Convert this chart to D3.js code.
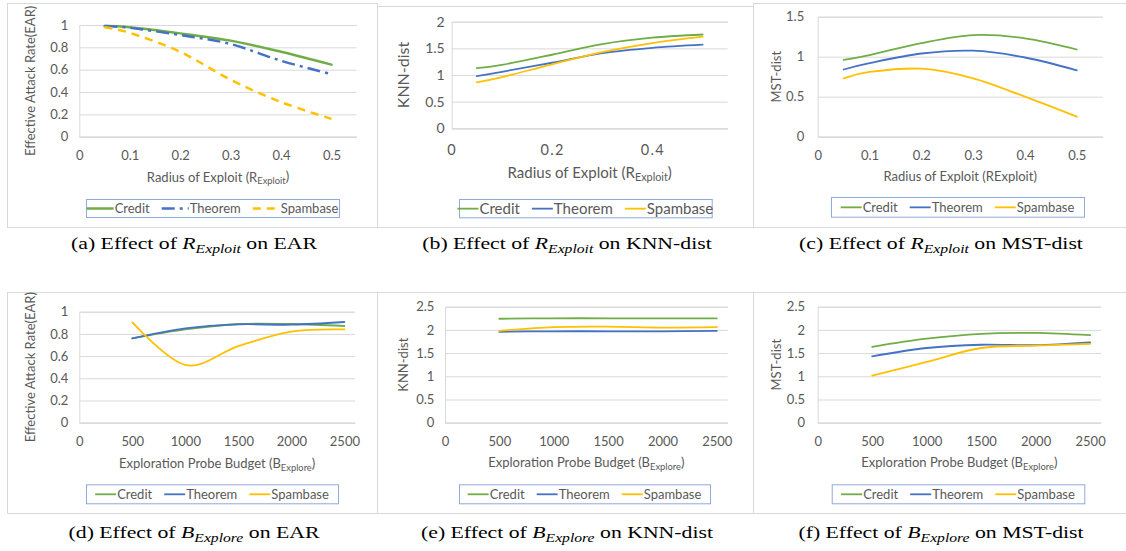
<!DOCTYPE html>
<html><head><meta charset="utf-8">
<script src="https://cdn.jsdelivr.net/npm/d3@7"></script>
<style>body{margin:0;background:#fff} svg{display:block}</style>
</head><body>
<svg id="c" width="1126" height="551"></svg>
<script>
// ---------------- data ----------------
const seriesNames = ["Credit", "Theorem", "Spambase"];
const radiusX = [0.05, 0.1, 0.2, 0.3, 0.4, 0.5];
const budgetX = [500, 1000, 1500, 2000, 2500];

const earRadiusCredit   = [0.99, 0.98, 0.925, 0.86, 0.76, 0.645];
const earRadiusTheorem  = [0.99, 0.975, 0.91, 0.83, 0.68, 0.56];
const earRadiusSpambase = [0.98, 0.93, 0.76, 0.51, 0.31, 0.16];

const knnRadiusCredit   = [1.13, 1.19, 1.38, 1.58, 1.70, 1.76];
const knnRadiusTheorem  = [0.98, 1.06, 1.23, 1.41, 1.51, 1.57];
const knnRadiusSpambase = [0.86, 0.96, 1.20, 1.43, 1.60, 1.72];

const mstRadiusCredit   = [0.96, 1.02, 1.17, 1.27, 1.23, 1.09];
const mstRadiusTheorem  = [0.84, 0.92, 1.04, 1.075, 0.99, 0.83];
const mstRadiusSpambase = [0.73, 0.81, 0.85, 0.73, 0.50, 0.25];

const earBudgetCredit   = [0.76, 0.84, 0.889, 0.889, 0.871];
const earBudgetTheorem  = [0.76, 0.85, 0.886, 0.883, 0.907];
const earBudgetSpambase = [0.904, 0.52, 0.69, 0.82, 0.84];

const knnBudgetCredit   = [2.24, 2.25, 2.25, 2.25, 2.25];
const knnBudgetTheorem  = [1.96, 1.97, 1.97, 1.97, 1.98];
const knnBudgetSpambase = [1.98, 2.06, 2.07, 2.05, 2.06];

const mstBudgetCredit   = [1.636, 1.81, 1.914, 1.936, 1.886];
const mstBudgetTheorem  = [1.43, 1.61, 1.68, 1.67, 1.73];
const mstBudgetSpambase = [1.014, 1.31, 1.61, 1.66, 1.70];

const radiusTicksFull  = [0, 0.1, 0.2, 0.3, 0.4, 0.5];
const radiusTicksWide  = [0, 0.2, 0.4];
const budgetTicks      = [0, 500, 1000, 1500, 2000, 2500];
const earTicks         = [0, 0.2, 0.4, 0.6, 0.8, 1];
const knnRadiusTicks   = [0, 0.5, 1, 1.5, 2];
const mstRadiusTicks   = [0, 0.5, 1, 1.5];
const distBudgetTicks  = [0, 0.5, 1, 1.5, 2, 2.5];

const yTitles = ["Effective Attack Rate(EAR)", "KNN-dist", "MST-dist"];
const captionLetters = ["(a)", "(b)", "(c)", "(d)", "(e)", "(f)"];
const captionMetrics = ["EAR", "KNN-dist", "MST-dist"];

// ---------------- styles / layout ----------------
const colors = ["#70AD47", "#4472C4", "#FFC000"];
const textColor = "#595959";
const gridColor = "#D9D9D9";
const FONT = "Lato, 'Open Sans', sans-serif";
const SERIF = "'Liberation Serif', 'DejaVu Serif', serif";

const panels = [
  { frame:[7,3,377,227], plot:[79.3,25,356.7,136.7], xDom:[0,0.55], yDom:[0,1],
    x: radiusX, ys:[earRadiusCredit, earRadiusTheorem, earRadiusSpambase],
    xt: radiusTicksFull, yt: earTicks, ytitle:0, xtitle:"R", sub:true,
    tickFs:13, xTickFs:13, xTickLs:0, titleFs:13, yTitleFs:13, legFs:13,
    yGap:11, xTickY:155, xTitleY:177, yTitleX:30, legend:[86,199,339,217], sample:27,
    dashes:[null,"13,5,3,5","8,6"], sw:2.5 },
  { frame:[377,6,753,227], plot:[451.7,21.7,727.7,128.3], xDom:[0,0.55], yDom:[0,2],
    x: radiusX, ys:[knnRadiusCredit, knnRadiusTheorem, knnRadiusSpambase],
    xt: radiusTicksWide, yt: knnRadiusTicks, ytitle:1, xtitle:"R", sub:true,
    tickFs:14, xTickFs:14.5, xTickLs:1.3, titleFs:15, yTitleFs:16, legFs:15,
    yGap:7, xTickY:150, xTitleY:173, yTitleX:403, legend:[459,199,711.7,217.3], sample:21,
    dashes:[null,null,null], sw:1.8 },
  { frame:[753,3,1126,227], plot:[817.7,16.7,1102.7,136.7], xDom:[0,0.55], yDom:[0,1.5],
    x: radiusX, ys:[mstRadiusCredit, mstRadiusTheorem, mstRadiusSpambase],
    xt: radiusTicksFull, yt: mstRadiusTicks, ytitle:2, xtitle:"R", sub:false,
    tickFs:13, xTickFs:13, xTickLs:0, titleFs:13, yTitleFs:13, legFs:13,
    yGap:13.5, xTickY:155.7, xTitleY:176.7, yTitleX:776.7, legend:[831,197,1084,216.7], sample:21,
    dashes:[null,null,null], sw:1.8 },
  { frame:[7,292,377,513], plot:[79.3,311.7,355,422.7], xDom:[0,2600], yDom:[0,1],
    x: budgetX, ys:[earBudgetCredit, earBudgetTheorem, earBudgetSpambase],
    xt: budgetTicks, yt: earTicks, ytitle:0, xtitle:"B", sub:true,
    tickFs:13, xTickFs:13, xTickLs:0, titleFs:13, yTitleFs:13, legFs:13,
    yGap:11, xTickY:441, xTitleY:463.3, yTitleX:30, legend:[86,484.3,338,503.3], sample:21,
    dashes:[null,null,null], sw:1.8 },
  { frame:[377,292,753,513], plot:[445,306.7,727.7,422.7], xDom:[0,2600], yDom:[0,2.5],
    x: budgetX, ys:[knnBudgetCredit, knnBudgetTheorem, knnBudgetSpambase],
    xt: budgetTicks, yt: distBudgetTicks, ytitle:1, xtitle:"B", sub:true,
    tickFs:13, xTickFs:13, xTickLs:0, titleFs:13, yTitleFs:13, legFs:13,
    yGap:10.7, xTickY:441.7, xTitleY:462.7, yTitleX:403.3, legend:[459,484.3,710,503.3], sample:21,
    dashes:[null,null,null], sw:1.8 },
  { frame:[753,292,1126,513], plot:[817.7,306.7,1101,422.7], xDom:[0,2600], yDom:[0,2.5],
    x: budgetX, ys:[mstBudgetCredit, mstBudgetTheorem, mstBudgetSpambase],
    xt: budgetTicks, yt: distBudgetTicks, ytitle:2, xtitle:"B", sub:true,
    tickFs:13, xTickFs:13, xTickLs:0, titleFs:13, yTitleFs:13, legFs:13,
    yGap:12.7, xTickY:441.7, xTitleY:462.7, yTitleX:776, legend:[831.7,484.3,1084.3,503.3], sample:21,
    dashes:[null,null,null], sw:1.8 }
];
// caption anchor (centre x, baseline y) and target width (figure is stretched horizontally)
const captionCenters = [[194,249],[567,249],[941,249],[194,538],[567,538],[941,538]];
const CAP_FS = 17, CAP_STRETCH = 1.28;

const svg = d3.select("#c");
svg.append("rect").attr("width",1126).attr("height",551).attr("fill","#fff");

panels.forEach((p, i) => {
  const g = svg.append("g");
  const [fx0, fy0, fx1, fy1] = p.frame;
  g.append("rect").attr("x", fx0 + 0.5).attr("y", fy0 + 0.5)
    .attr("width", fx1 - fx0).attr("height", fy1 - fy0)
    .attr("fill", "none").attr("stroke", gridColor).attr("stroke-width", 1);

  const [px0, py0, px1, py1] = p.plot;
  const xs = d3.scaleLinear().domain(p.xDom).range([px0, px1]);
  const ys = d3.scaleLinear().domain(p.yDom).range([py1, py0]);

  const yAxis = d3.axisLeft(ys).tickValues(p.yt).tickSize(-(px1 - px0)).tickPadding(p.yGap).tickFormat(d => String(d));
  const ya = g.append("g").attr("transform", `translate(${px0},0)`).call(yAxis);
  ya.select(".domain").attr("stroke", gridColor);
  ya.selectAll(".tick line").attr("stroke", gridColor).attr("stroke-width", 1);
  ya.selectAll(".tick text").attr("fill", textColor).attr("font-family", FONT).attr("font-size", p.tickFs);

  const xAxis = d3.axisBottom(xs).tickValues(p.xt).tickSize(0).tickPadding(0).tickFormat(d => String(d));
  const xa = g.append("g").attr("transform", `translate(0,${py1})`).call(xAxis);
  xa.select(".domain").attr("stroke", gridColor);
  xa.selectAll(".tick text").attr("fill", textColor).attr("font-family", FONT)
    .attr("font-size", p.xTickFs).attr("letter-spacing", p.xTickLs)
    .attr("y", p.xTickY - py1).attr("dy", "0.35em");

  const xt = g.append("text").attr("x", (px0 + px1) / 2).attr("y", p.xTitleY).attr("dy", "0.35em")
    .attr("text-anchor", "middle").attr("fill", textColor).attr("font-family", FONT).attr("font-size", p.titleFs);
  const word = p.xtitle === "R" ? "Radius of Exploit (" : "Exploration Probe Budget (";
  const subw = p.xtitle === "R" ? "Exploit" : "Explore";
  if (p.sub) {
    xt.append("tspan").text(word + p.xtitle);
    xt.append("tspan").attr("font-size", p.titleFs * 0.72).attr("dy", "0.3em").text(subw);
    xt.append("tspan").attr("dy", "-0.22em").text(")");
  } else {
    xt.text(word + p.xtitle + subw + ")");
  }

  g.append("text").attr("transform", `translate(${p.yTitleX},${(py0 + py1) / 2}) rotate(-90)`)
    .attr("text-anchor", "middle").attr("dy", "0.35em").attr("fill", textColor)
    .attr("font-family", FONT).attr("font-size", p.yTitleFs).text(yTitles[p.ytitle]);

  const line = d3.line().curve(d3.curveCardinal.tension(0)).x(d => xs(d[0])).y(d => ys(d[1]));
  p.ys.forEach((vals, k) => {
    const pts = p.x.map((xv, j) => [xv, vals[j]]);
    const path = g.append("path").attr("d", line(pts)).attr("fill", "none")
      .attr("stroke", colors[k]).attr("stroke-width", p.sw).attr("stroke-linecap", p.dashes[k] ? "butt" : "round");
    if (p.dashes[k]) path.attr("stroke-dasharray", p.dashes[k]);
  });

  const [lx0, ly0, lx1, ly1] = p.legend;
  g.append("rect").attr("x", lx0 + 0.5).attr("y", ly0 + 0.5).attr("width", lx1 - lx0).attr("height", ly1 - ly0)
    .attr("fill", "#fff").attr("stroke", "#8FAADC").attr("stroke-width", 1);
  const ly = (ly0 + ly1) / 2 + 0.5;
  const items = seriesNames.map((name, k) => {
    const ig = g.append("g");
    const t = ig.append("text").attr("x", p.sample + 1).attr("y", ly).attr("dy", "0.35em")
      .attr("fill", textColor).attr("font-family", FONT).attr("font-size", p.legFs).text(name);
    const ln = ig.append("line").attr("x1", 0).attr("x2", p.sample).attr("y1", ly).attr("y2", ly)
      .attr("stroke", colors[k]).attr("stroke-width", p.sw);
    if (p.dashes[k]) ln.attr("stroke-dasharray", p.dashes[k]);
    return { ig, w: p.sample + 1 + t.node().getComputedTextLength() };
  });
  const gap = 12;
  const total = d3.sum(items, d => d.w) + gap * (items.length - 1);
  let cx = (lx0 + lx1) / 2 - total / 2;
  items.forEach(it => { it.ig.attr("transform", `translate(${cx},0)`); cx += it.w + gap; });

  // caption (horizontally stretched like the reference figure)
  const [ccx, ccy] = captionCenters[i];
  const cap = svg.append("text").attr("transform", `translate(${ccx},${ccy}) scale(${CAP_STRETCH},1)`)
    .attr("text-anchor", "middle")
    .attr("font-family", SERIF).attr("font-size", CAP_FS).attr("fill", "#000");
  cap.append("tspan").text(captionLetters[i] + " Effect of ");
  cap.append("tspan").attr("font-style", "italic").text(p.xtitle);
  cap.append("tspan").attr("font-style", "italic").attr("font-size", CAP_FS * 0.72).attr("dy", 3.5).text(subw);
  cap.append("tspan").attr("dy", -3.5).text(" on " + captionMetrics[p.ytitle]);
});
</script>
</body></html>
